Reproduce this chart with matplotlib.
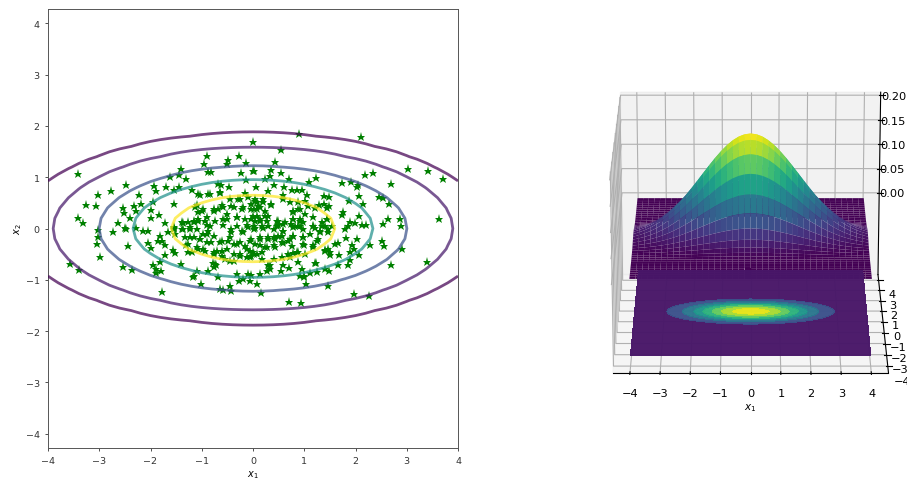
import numpy as np
import matplotlib
matplotlib.use('Agg')
import matplotlib.pyplot as plt

# grid and density slices (x from 0 to 4, mirrored below)
grid = [-4 + 0.2 * i for i in range(41)]
peak = 0.205
slice_x1 = [1, .9927, .9710, .9360, .8892, .8322, .7677, .6977, .6250, .5514, .4798,
            .4109, .3471, .2891, .2370, .1913, .1525, .1196, .0925, .0705, .0530]
slice_x2 = [1, .9564, .8368, .6694, .4903, .3284, .2014, .1129, .0578, .0270, .0116,
            .0045, .0016, .0005, .0002, .0001, 0, 0, 0, 0, 0]

line_levels = [.0042, .01268, .0391, .0751, .1284]
line_colors = ['#440154', '#46176a', '#3b528b', '#21918c', '#fde725']
fill_levels = [0, .0442, .0744, .1014, .1241, .1478, .1694, .1899, .206]
z_ticks = [0, .05, .10, .15, .20]

stars = [
    (-3.41,1.06),(0.0,1.69),(-.90,1.42),(-.27,1.42),(-.49,1.34),(-.95,1.26),(-.51,1.26),(-.14,1.27),
    (-1.40,1.16),(-.87,1.11),(-.82,1.11),(-.24,1.09),(-1.62,1.0),(-1.45,1.05),(-1.30,.97),(0,1.13),
    (-.14,.95),(-2.47,.85),(-1.93,.82),(-1.69,.81),(-1.45,.80),(-1.55,.76),(-1.89,.73),(-1.2,.75),
    (-2.78,.73),(-3.02,.65),(-.68,.86),(-.63,.85),(-.47,.80),(-.65,.69),(-1.03,.65),(-.84,.68),
    (-.16,.69),(-2.23,.65),(-1.55,.485),(-3.26,.465),(-3.06,.445),(-2.54,.39),(-2.32,.445),(-2.19,.485),
    (-2.28,.34),(-1.96,.51),(-1.99,.37),(-1.83,.26),(-2.0,.20),(-2.52,.30),(-2.40,.21),(-3.41,.21),
    (-3.31,.10),(-2.63,.10),(-2.5,.01),(-1.71,.11),(-1.55,.02),(-1.37,.11),(-1.26,.12),(-1.16,.15),
    (-1.07,.19),(-1.1,.45),(-1.0,.35),(-.77,.38),(-.61,.45),(-.42,.43),(-.26,.58),(-.32,.22),
    (0,.25),(-.03,.48),(-.19,.41),(-.51,.19),(-.9,.06),(-.58,.06),(-.12,.06),
    (.89,1.85),(2.11,1.79),(.55,1.53),(.43,1.30),(.02,1.12),(.36,1.14),(.55,1.08),(.33,1.02),
    (.23,.97),(.71,.97),(1.09,.91),(1.22,.985),(2.19,1.04),(2.35,1.08),(3.02,1.16),(3.41,1.12),
    (3.71,.96),(2.70,.87),(1.74,.89),(1.91,.90),(2.04,.855),(2.02,.80),(.41,.85),(.61,.80),
    (.05,.80),(.30,.74),(.755,.76),(.85,.75),(.95,.76),(1.06,.66),(2.07,.63),(2.45,.61),
    (2.54,.59),(1.87,.53),(2.15,.47),(2.66,.485),(1.39,.63),(1.49,.61),(1.28,.46),(1.39,.48),
    (1.49,.43),(1.44,.39),(1.2,.39),(.59,.65),(.59,.58),(.72,.51),(.885,.51),(1.01,.54),
    (.885,.38),(.79,.35),(.04,.58),(.07,.51),(.2,.51),(.36,.46),(.14,.41),(.07,.38),
    (1.76,.33),(1.73,.26),(2.07,.25),(1.44,.19),(2.64,.19),(2.86,.19),(2.54,.09),(3.63,.19),
    (2.88,.04),(1.89,.12),(1.99,.11),(2.12,.06),(2.2,.07),(1.86,.04),(1.18,.22),(1.34,.04),
    (1.41,.055),(1.18,.055),(.79,.19),(.92,.19),(.98,.12),(.75,.09),(.885,.055),(.46,.15),
    (.49,.07),(.59,.09),(-.03,.19),(.04,.15),(.14,.19),(.23,.25),(.27,.15),(.3,.055),
    (.17,.055),(.01,.055),
    (-3.02,-.03),(-3.02,-.17),(-2.73,-.06),(-2.48,0),(-2.29,.01),(-3.05,-.30),(-2.43,-.34),(-2.99,-.555),
    (-3.57,-.69),(-3.40,-.815),(-2.54,-.76),(-2.37,-.815),(-1.78,-1.23),(-1.02,-1.09),(-.64,-1.17),(-.59,-1.19),
    (-.45,-1.13),(-.42,-1.21),(-2.14,-.04),(-2.04,-.04),(-1.81,-.14),(-1.78,-.24),(-1.72,-.33),(-1.85,-.24),
    (-2.04,-.29),(-1.99,-.38),(-1.55,.01),(-1.52,-.11),(-1.65,-.07),(-1.57,-.42),(-1.53,-.48),(-1.72,-.52),
    (-1.81,-.65),(-1.95,-.72),(-1.9,-.79),(-1.8,-.83),(-1.9,-.87),(-1.4,-.69),(-1.31,-.33),(-1.26,-.46),
    (-1.2,-.46),(-1.09,-.83),(-1.15,-.92),(-1.18,-.95),(-.88,-.82),(-.79,-.68),(-.72,-.72),(-.77,-.76),
    (-.68,-.95),(-.32,-.89),(-.27,-1.02),(-.09,-.89),(-.06,-1.02),(-.19,-.98),(-1.36,-.01),(-1.23,.02),
    (-1.10,-.01),(-.97,-.11),(-1.23,-.17),(-1.03,-.20),(-.90,-.27),(-.77,-.14),(-.61,-.24),(-.45,-.17),
    (-.32,-.30),(-.51,-.40),(-.71,-.43),(-.97,-.40),(-1.10,-.37),(-.87,-.04),(-.42,-.01),(-.19,-.07),
    (-.06,-.24),(-.12,-.40),(0,-.46),(-.26,-.50),(-.61,-.53),(-.45,-.63),(-.06,-.56),(-.77,-.50),
    (2.51,-.24),(2.56,-.35),(2.90,-.40),(2.69,-.71),(3.39,-.66),(1.97,-1.28),(2.27,-1.31),(.71,-1.43),
    (.93,-1.45),(.16,-1.25),(1.03,-1.09),(1.46,-1.13),(.07,-1.09),(1.81,-.19),(2.02,-.20),(2.28,-.32),
    (1.93,-.33),(1.97,-.40),(1.89,-.46),(2.06,-.52),(1.89,-.61),(1.85,-.71),(1.65,-.71),(1.67,-.52),
    (1.50,-.51),(1.40,-.42),(1.47,-.40),(1.6,-.30),(1.66,-.29),(1.22,-.68),(1.48,-.82),(1.40,-.79),
    (1.24,-.85),(1.11,-.87),(1.0,-.92),(.92,-.92),(.95,-.79),(.885,-.66),(1.0,-.95),(.54,-.82),
    (.71,-.77),(.59,-.71),(.14,-.89),(-.03,-.90),(.33,-.79),(.30,-.72),(.27,-.82),(.885,-.46),
    (1.0,-.33),(1.18,-.33),(.79,-.48),(.72,-.56),(.56,-.56),(.40,-.60),(.17,-.59),(-.03,-.53),
    (.04,-.30),(.14,-.20),(.30,-.17),(.40,-.33),(.59,-.29),(.72,-.20),(.79,-.14),(.56,-.14),
    (.98,-.17),(1.11,-.11),(1.27,-.20),(1.31,-.04),(1.47,-.01),(1.21,.01),(.98,-.01),(.79,.02),
    (.59,-.05),(.40,-.01),(.20,.01),(.04,.01),(.14,-.33),(.27,-.37),(.43,-.20),(1.80,-.01),
    # dense middle of the cloud
    (-1.07,.67),(-.87,.67),(-.64,.705),(-.45,.575),(-.29,.575),(-.09,.61),(-1.13,.41),(-1.07,.315),
    (-.97,.38),(-.90,.22),(-.77,.35),(-.68,.38),(-.58,.41),(-.51,.28),(-.58,.185),(-.74,.15),
    (-.84,.055),(-.94,.15),(-1.07,.15),(-1.16,.12),(-1.39,.12),(-1.23,-.01),(-1.39,-.01),(-1.55,-.01),
    (-1.33,-.17),(-1.16,-.17),(-1.26,-.30),(-1.03,-.20),(-.90,-.11),(-.81,-.27),(-.64,-.27),(-.94,-.43),
    (-1.07,-.39),(-.77,-.46),(-.61,-.43),(-.48,-.24),(-.38,-.30),(-.25,-.27),(-.16,-.335),(-.06,-.43),
    (-.38,-.50),(-.25,-.53),(-.12,-.56),(-.55,-.595),(-.38,-.63),(-.74,-.69),(-.32,.22),(-.16,.185),
    (-.32,.055),(-.22,-.04),(-.09,.02),(-.42,-.075),(-.03,.38),(-.22,.38),(-.38,.41),
    (.04,.54),(.10,.445),(.2,.575),(.36,.48),(.235,.35),(.30,.25),(.14,.15),(.01,.38),
    (.07,.25),(.495,.15),(.625,.12),(.46,.055),(.79,.185),(.92,.15),(1.015,.28),(.92,.38),
    (.79,.315),(1.08,.445),(.82,.055),(.92,.055),(.98,-.17),(1.18,.055),(1.34,.12),(1.44,.185),
    (1.535,.055),(1.31,-.075),(1.47,-.075),(1.24,-.24),(1.18,-.37),(1.405,-.43),(1.5,-.465),(.98,-.30),
    (.79,-.14),(.69,-.24),(.59,-.04),(.495,-.14),(.40,-.17),(.30,-.205),(.56,-.27),(.43,-.37),
    (.235,-.37),(.17,-.465),(.07,-.50),(-.03,-.205),(.14,-.17),(.01,-.01),(.755,-.335),(.69,-.50),
    (.85,-.465),(1.015,-.50),(1.21,-.67),(.01,-.50),(.33,-.72),
]

px = np.r_[slice_x1[:0:-1], slice_x1]
py = np.r_[slice_x2[:0:-1], slice_x2]
X, Y = np.meshgrid(grid, grid)
Z = peak * np.outer(py, px)
stars = np.array(stars)

W, H = 907, 481
fig = plt.figure(figsize=(W / 100, H / 100), dpi=100)

ax = fig.add_axes([48 / W, 1 - 449 / H, 410 / W, 439 / H])
ax.plot(stars[:, 0], stars[:, 1], '*', color='green', ms=6.6, mew=0, zorder=2)
ax.contour(X, Y, Z, levels=line_levels, colors=line_colors, linewidths=2, alpha=0.72, zorder=3)
ax.set_xlim(-4, 4)
ax.set_ylim(-4.28, 4.28)
ax.set_xticks(range(-4, 5))
ax.set_yticks(range(-4, 5))
ax.tick_params(labelsize=6.8, width=0.6, length=2.5, colors='#333333')
ax.set_xlabel('$x_1$', fontsize=7, labelpad=2)
ax.set_ylabel('$x_2$', fontsize=7, labelpad=1)
for s in ax.spines.values():
    s.set_linewidth(0.7)
    s.set_color('#555555')

ax2 = fig.add_axes([537 / W, 1 - 443 / H, 416 / W, 416 / H], projection='3d', computed_zorder=False)
ax2.set_proj_type('persp', focal_length=1.4)
ax2.plot_surface(X, Y, Z, cmap='viridis', linewidth=0, antialiased=True, vmin=0, vmax=peak)
ax2.contourf(X, Y, Z, levels=fill_levels, zdir='z', offset=-0.15, cmap='viridis', vmin=.011, vmax=peak, alpha=0.97)
ax2.set_xlim(-4.57, 4.57)
ax2.set_ylim(-4.57, 4.57)
ax2.set_zlim(-0.171, 0.206)
ax2.set_zticks(z_ticks)
ax2.set_xticks(range(-4, 5))
ax2.set_yticks(range(-4, 5))
ax2.tick_params(labelsize=8.2, pad=0)
ax2.set_xlabel('$x_1$', fontsize=7.5, labelpad=-3)
ax2.view_init(elev=20, azim=-90)

fig.savefig('out.png', dpi=100)
